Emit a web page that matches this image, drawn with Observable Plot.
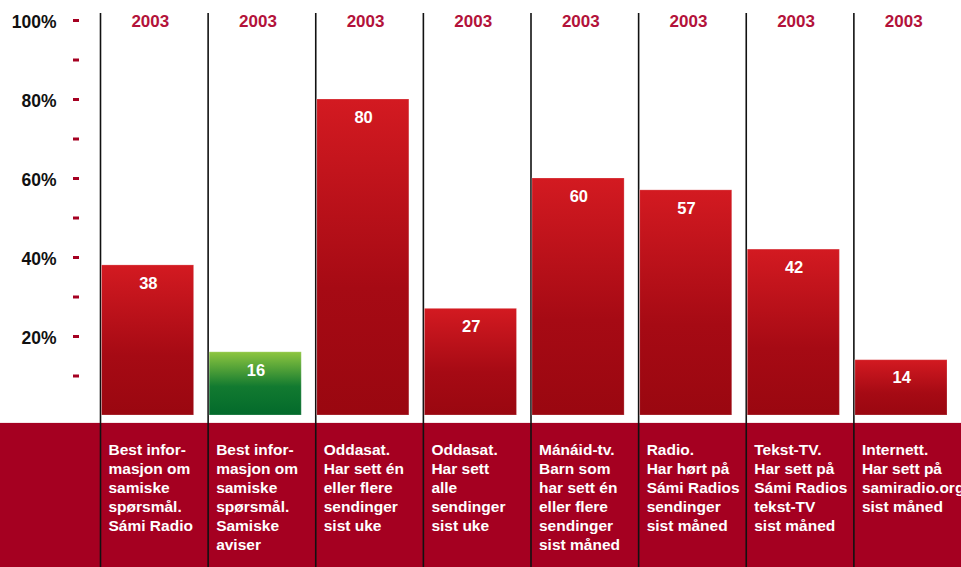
<!DOCTYPE html>
<html><head><meta charset="utf-8">
<script src="https://cdn.jsdelivr.net/npm/d3@7"></script>
<script src="https://cdn.jsdelivr.net/npm/@observablehq/plot@0.6"></script>
<style>html,body{margin:0;padding:0;background:#fff} svg{display:block}</style>
</head><body><div id="chart"></div>
<script>
const labels = [
  "Best infor-\nmasjon om\nsamiske\nspørsmål.\nSámi Radio",
  "Best infor-\nmasjon om\nsamiske\nspørsmål.\nSamiske\naviser",
  "Oddasat.\nHar sett én\neller flere\nsendinger\nsist uke",
  "Oddasat.\nHar sett\nalle\nsendinger\nsist uke",
  "Mánáid-tv.\nBarn som\nhar sett én\neller flere\nsendinger\nsist måned",
  "Radio.\nHar hørt på\nSámi Radios\nsendinger\nsist måned",
  "Tekst-TV.\nHar sett på\nSámi Radios\ntekst-TV\nsist måned",
  "Internett.\nHar sett på\nsamiradio.org\nsist måned"
];
const values = [38, 16, 80, 27, 60, 57, 42, 14];
const years = ["2003", "2003", "2003", "2003", "2003", "2003", "2003", "2003"];
const kinds = ["red", "green", "red", "red", "red", "red", "red", "red"];
const yTickLabels = [20, 40, 60, 80, 100];
const yMinorTicks = [10, 20, 30, 40, 50, 60, 70, 80, 90, 100];

const data = labels.map((l, i) => ({label: l, value: values[i], year: years[i], kind: kinds[i]}));

const W = 961, H = 567;
const bw = (W - 100) / labels.length;
const dark = "#a50021";

const defsMark = () => {
  const g = d3.create("svg:g");
  const defs = g.append("defs");
  const r = defs.append("linearGradient").attr("id", "gRed").attr("x1", 0).attr("y1", 0).attr("x2", 0).attr("y2", 1);
  r.append("stop").attr("offset", "0%").attr("stop-color", "#d31a21");
  r.append("stop").attr("offset", "60%").attr("stop-color", "#a60a14");
  r.append("stop").attr("offset", "100%").attr("stop-color", "#9a0710");
  const gr = defs.append("linearGradient").attr("id", "gGreen").attr("x1", 0).attr("y1", 0).attr("x2", 0).attr("y2", 1);
  gr.append("stop").attr("offset", "0%").attr("stop-color", "#8ec63f");
  gr.append("stop").attr("offset", "55%").attr("stop-color", "#127a30");
  gr.append("stop").attr("offset", "100%").attr("stop-color", "#036a2b");
  return g.node();
};

const bandMark = (index, scales, vals, dims) =>
  d3.create("svg:rect")
    .attr("x", 0)
    .attr("y", scales.y(-2))
    .attr("width", dims.width)
    .attr("height", dims.height - scales.y(-2))
    .attr("fill", dark)
    .node();

const plot = Plot.plot({
  width: W, height: H,
  marginLeft: 100, marginRight: 0, marginTop: 20, marginBottom: 152,
  x: {domain: labels, range: [100, W], padding: 0, round: false, axis: null},
  y: {domain: [0, 100], axis: null},
  style: {fontFamily: "'Liberation Sans', Arial, sans-serif", background: "#fff", overflow: "visible"},
  marks: [
    defsMark,
    bandMark,
    Plot.ruleX(labels, {x: d => d, dx: -bw / 2, stroke: "#111", strokeWidth: 1.6, insetTop: -7, insetBottom: -152}),
    Plot.barY(data.filter(d => d.kind === "red"), {x: "label", y: "value", fill: "url(#gRed)", stroke: "#fff", strokeOpacity: 0.22, strokeWidth: 1, insetLeft: 1.5, insetRight: 14}),
    Plot.barY(data.filter(d => d.kind === "green"), {x: "label", y: "value", fill: "url(#gGreen)", stroke: "#fff", strokeOpacity: 0.22, strokeWidth: 1, insetLeft: 1.5, insetRight: 14}),
    Plot.text(data, {x: "label", y: "value", text: d => String(d.value), dx: -6, dy: 18, lineAnchor: "middle", fill: "#fff", fontSize: 16.5, fontWeight: "bold"}),
    Plot.text(data, {x: "label", frameAnchor: "top", text: "year", dx: -4, dy: 1, lineAnchor: "middle", fill: "#b3123a", fontSize: 17, fontWeight: "bold"}),
    Plot.text(data, {x: "label", y: () => 0, text: "label", textAnchor: "start", lineAnchor: "top", dx: -bw / 2 + 8, dy: 26, lineHeight: 1.23, fill: "#fff", fontSize: 15.5, fontWeight: "bold"}),
    Plot.axisY(yMinorTicks, {anchor: "left", tickSize: 6, dx: -21, tickFormat: () => "", stroke: dark, strokeWidth: 3, label: null}),
    Plot.axisY(yTickLabels, {anchor: "left", tickSize: 0, tickPadding: 44, dy: 2, tickFormat: d => d + "%", fontSize: 17.5, fontWeight: "bold", fill: "#111", label: null})
  ]
});
document.getElementById("chart").appendChild(plot);
</script>
</body></html>
